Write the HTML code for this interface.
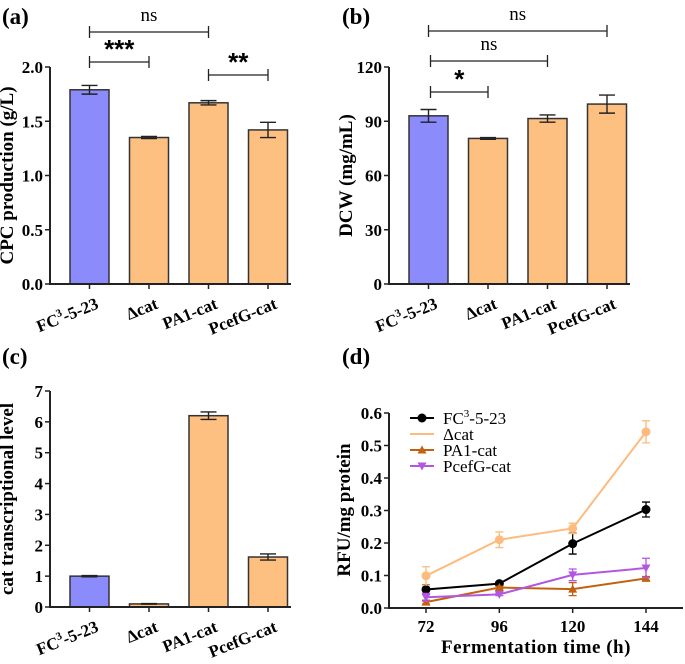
<!DOCTYPE html>
<html><head><meta charset="utf-8"><style>
body{margin:0;background:#fff;}
svg{font-family:"Liberation Serif",serif;}
.t{font-weight:bold;font-size:17px;}
</style></head><body>
<svg id="s" width="685" height="659" viewBox="0 0 685 659"></svg>
<script>
const cats=["FC3-5-23","Δcat","PA1-cat","PcefG-cat"];
const cpcVals=[1.79,1.35,1.67,1.42];
const cpcErr=[0.04,0.01,0.02,0.07];
const dcwVals=[93,80.5,91.5,99.5];
const dcwErr=[3.5,0.5,2,5];
const catVals=[1.0,0.1,6.2,1.62];
const catErr=[0.02,0.01,0.12,0.1];
const times=[72,96,120,144];
const fcRfu=[0.057,0.075,0.198,0.303];
const fcRfuErr=[0.015,0.005,0.032,0.023];
const dcRfu=[0.099,0.21,0.245,0.542];
const dcRfuErr=[0.028,0.024,0.016,0.034];
const paRfu=[0.018,0.063,0.058,0.091];
const paRfuErr=[0.006,0.004,0.02,0.006];
const pcRfu=[0.033,0.042,0.102,0.123];
const pcRfuErr=[0.012,0.004,0.018,0.03];
const cpcTicks=[0,0.5,1.0,1.5,2.0];
const dcwTicks=[0,30,60,90,120];
const catTicks=[0,1,2,3,4,5,6,7];
const rfuTicks=[0,0.1,0.2,0.3,0.4,0.5,0.6];

const S=document.getElementById('s');
const NS="http://www.w3.org/2000/svg";
function mk(tag,at,parent,txt){const e=document.createElementNS(NS,tag);for(const k in at)e.setAttribute(k,at[k]);if(txt!==undefined)e.textContent=txt;(parent||S).appendChild(e);return e;}
function label(x,y,t){const e=mk('text',{x:x,y:y,'font-size':23,'font-weight':'bold'},S,t);

}
label(2,24,"(a)");label(342,24,"(b)");label(2,364,"(c)");label(342,364,"(d)");

function barPanel(id,ox,y0,yTop,max,ticks,fmt,vals,errs,title){
  const g=mk('g',{});
  
  
  const ys=v=>y0-(v/max)*(y0-yTop);
  const centers=[0,1,2,3].map(i=>ox+39.5+i*59.5);
  vals.forEach((v,i)=>{
    const cx=centers[i];
    const r=mk('rect',{x:cx-19.5,y:ys(v),width:39,height:y0-ys(v),fill:i==0?'#8b8bfb':'#fdc081',stroke:'#333','stroke-width':1.5},g);
    
    
    const e=errs[i];
    mk('path',{d:`M${cx} ${ys(v+e)}V${ys(v-e)}M${cx-8} ${ys(v+e)}H${cx+8}M${cx-8} ${ys(v-e)}H${cx+8}`,stroke:'#222','stroke-width':1.4,fill:'none'},g);
    const tx=cx+10, ty=y0+24;
    const lt=mk('text',{x:tx,y:ty,'text-anchor':'end','font-size':17,'font-weight':'bold',transform:`rotate(-22 ${tx} ${ty})`},g);
    
    
    if(i==0){lt.innerHTML='FC<tspan dy="-7" font-size="11">3</tspan><tspan dy="7">-5-23</tspan>';}else lt.textContent=cats[i];
    mk('line',{x1:cx,y1:y0,x2:cx,y2:y0+5,stroke:'#222','stroke-width':1.5},g);
  });
  mk('path',{d:`M${ox} ${yTop}V${y0}H${ox+241}`,stroke:'#222','stroke-width':2,fill:'none'},g);
  ticks.forEach(t=>{const y=ys(t);mk('line',{x1:ox-5,y1:y,x2:ox,y2:y,stroke:'#222','stroke-width':1.5},g);
    const tl=mk('text',{x:ox-7,y:y+6,'text-anchor':'end',class:'t'},g,fmt(t));
    
    });
  const cy=(y0+yTop)/2;
  const tx=ox-37;
  const yt=mk('text',{x:tx,y:cy,'text-anchor':'middle','font-size':19,'font-weight':'bold',transform:`rotate(-90 ${tx} ${cy})`},g,title);
  
  
  return centers;
}
function bracket(x1,x2,y,txt,star){
  mk('path',{d:`M${x1} ${y-6}V${y+6}M${x1} ${y}H${x2}M${x2} ${y-6}V${y+6}`,stroke:'#222','stroke-width':1.3,fill:'none'});
  const t=mk('text',{x:(x1+x2)/2,y:star?y-4:y-11,'text-anchor':'middle','font-size':star?26:19,'font-weight':star?'bold':'normal','font-family':star?'Liberation Sans, sans-serif':'Liberation Serif, serif'},S,txt);
  
  
}
const ca=barPanel('cpc-chart',50,284,67,2,cpcTicks,v=>v.toFixed(1),cpcVals,cpcErr,'CPC production (g/L)');
bracket(ca[0],ca[2],32,'ns',false);bracket(ca[0],ca[1],62,'***',true);bracket(ca[2],ca[3],75,'**',true);
const cb=barPanel('dcw-chart',389,284,67,120,dcwTicks,v=>String(v),dcwVals,dcwErr,'DCW (mg/mL)');
bracket(cb[0],cb[3],31,'ns',false);bracket(cb[0]+2,cb[2],61,'ns',false);bracket(cb[0]+2,cb[1],92,'*',true);
barPanel('cat-chart',50,607,391,7,catTicks,v=>String(v),catVals,catErr,'cat transcriptional level');

// panel d
const dg=mk('g',{});


const X0=389,Y0=608,YT=413;
const xs=t=>426+(t-72)/72*220;
const ys=v=>Y0-v/0.6*(Y0-YT);
mk('path',{d:`M${X0} ${YT}V${Y0}H683`,stroke:'#222','stroke-width':2,fill:'none'},dg);
rfuTicks.forEach(t=>{const y=ys(t);mk('line',{x1:X0-5,y1:y,x2:X0,y2:y,stroke:'#222','stroke-width':1.5},dg);
  const tl=mk('text',{x:X0-7,y:y+6,'text-anchor':'end',class:'t'},dg,t.toFixed(1));
  
  });
times.forEach(t=>{const x=xs(t);mk('line',{x1:x,y1:Y0,x2:x,y2:Y0+5,stroke:'#222','stroke-width':1.5},dg);
  const tl=mk('text',{x:x,y:Y0+24,'text-anchor':'middle',class:'t'},dg,String(t));
  
  });
const xt=mk('text',{x:536,y:653,'text-anchor':'middle','font-size':19,'font-weight':'bold','letter-spacing':0.5},dg,'Fermentation time (h)');


const yt=mk('text',{x:350,y:510,'text-anchor':'middle','font-size':19,'font-weight':'bold',transform:'rotate(-90 350 510)'},dg,'RFU/mg protein');


function marker(x,y,type,c,p){
  if(type=='c')return mk('circle',{cx:x,cy:y,r:4.5,fill:c},p);
  if(type=='t')return mk('path',{d:`M${x} ${y-4.5}L${x+4.5} ${y+3.5}L${x-4.5} ${y+3.5}Z`,fill:c},p);
  return mk('path',{d:`M${x} ${y+4.5}L${x+4.5} ${y-3.5}L${x-4.5} ${y-3.5}Z`,fill:c},p);
}
const series=[["fc",fcRfu,fcRfuErr,'#000','c'],["dcat",dcRfu,dcRfuErr,'#fdbb7d','c'],["pa1",paRfu,paRfuErr,'#c2620f','t'],["pcefg",pcRfu,pcRfuErr,'#b356e0','v']];
series.forEach(([n,v,e,c,m])=>{
  const sg=mk('g',{},dg);
  
  
  mk('polyline',{points:v.map((y,i)=>xs(times[i])+','+ys(y)).join(' '),fill:'none',stroke:c,'stroke-width':2},sg);
  v.forEach((y,i)=>{const x=xs(times[i]);
    mk('path',{d:`M${x} ${ys(y+e[i])}V${ys(y-e[i])}M${x-4} ${ys(y+e[i])}H${x+4}M${x-4} ${ys(y-e[i])}H${x+4}`,stroke:c,'stroke-width':1.3,fill:'none'},sg);
    marker(x,ys(y),m,c,sg);});
});
const lg=mk('g',{},dg);


const lnames=['FC3-5-23','Δcat','PA1-cat','PcefG-cat'];
series.forEach(([n,v,e,c,m],i)=>{
  const y=418+i*16;
  mk('line',{x1:410,y1:y,x2:434,y2:y,stroke:c,'stroke-width':2},lg);
  if(i!=1)marker(422,y,m,c,lg);
  const t=mk('text',{x:443,y:y+6,'font-size':17},lg);
  
  
  if(i==0)t.innerHTML='FC<tspan dy="-7" font-size="11">3</tspan><tspan dy="7">-5-23</tspan>';else t.textContent=lnames[i];
});
</script>
</body></html>
